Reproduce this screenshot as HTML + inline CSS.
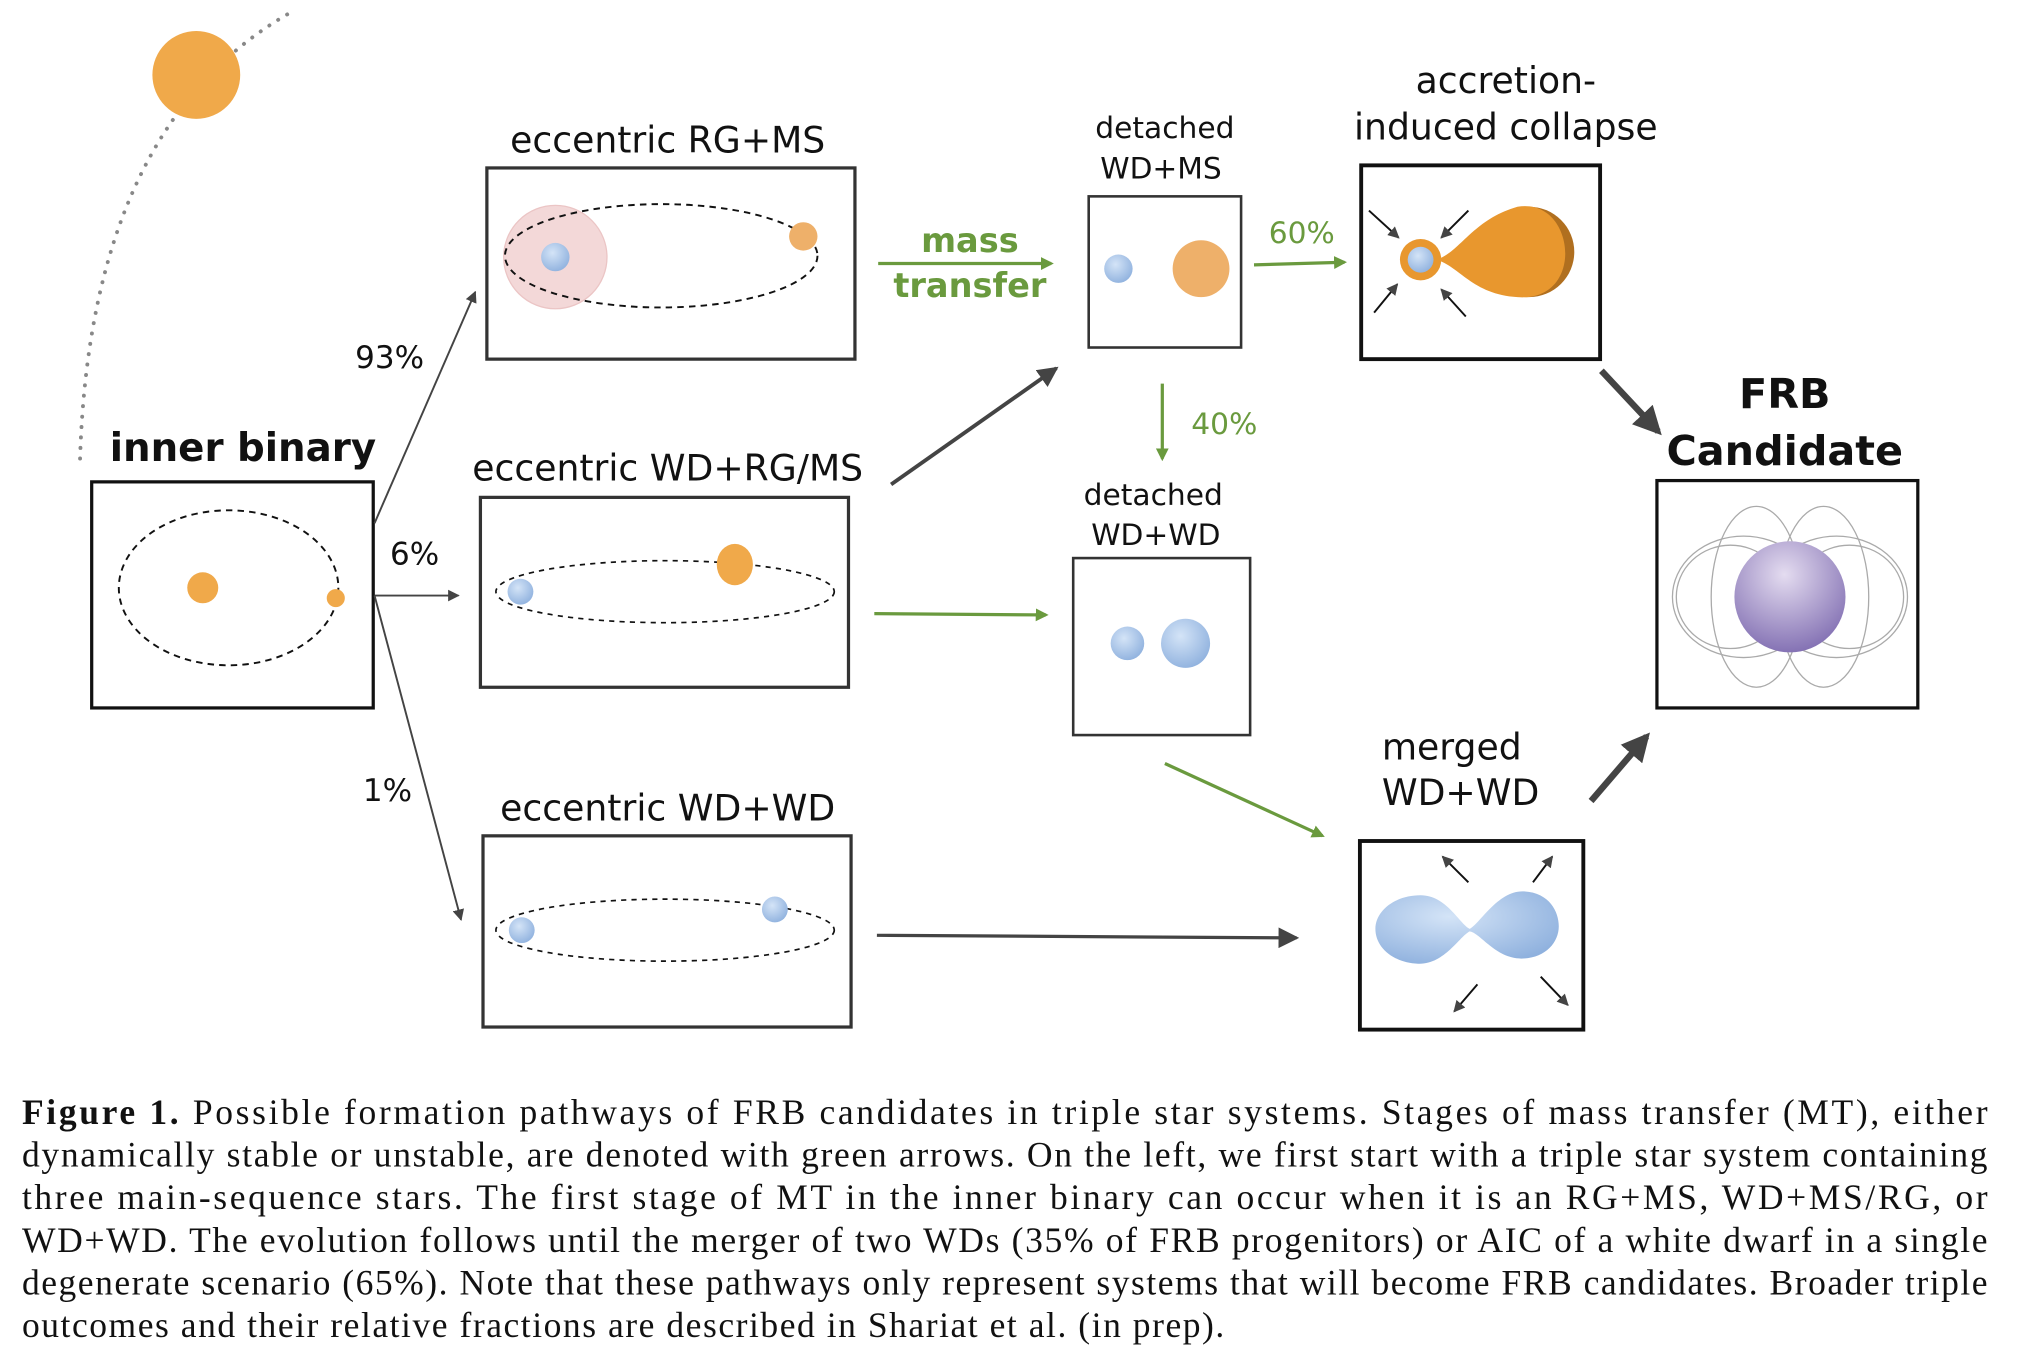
<!DOCTYPE html>
<html><head><meta charset="utf-8"><style>
html,body{margin:0;padding:0;background:#fff}
svg{display:block}
.s{font-family:"DejaVu Sans","Liberation Sans",sans-serif;fill:#111}
.c{font-family:"Liberation Serif",serif;font-size:27.5px;fill:#111}
</style></head><body>
<svg width="2025" height="1350" viewBox="0 0 1568 1045" preserveAspectRatio="none" xmlns="http://www.w3.org/2000/svg">
<defs>
<marker id="ag" markerWidth="10" markerHeight="10" refX="8" refY="5" orient="auto" markerUnits="userSpaceOnUse"><path d="M0,0 L10,5 L0,10 z" fill="#6a9a3e"/></marker>
<marker id="ak" markerWidth="9" markerHeight="9" refX="8" refY="4.5" orient="auto" markerUnits="userSpaceOnUse"><path d="M0,0 L9,4.5 L0,9 z" fill="#444"/></marker>
<marker id="ab" markerWidth="22" markerHeight="22" refX="18" refY="11" orient="auto" markerUnits="userSpaceOnUse"><path d="M0,0 L22,11 L0,22 z" fill="#444"/></marker>
<marker id="ad" markerWidth="16" markerHeight="16" refX="14" refY="8" orient="auto" markerUnits="userSpaceOnUse"><path d="M0,0 L16,8 L0,16 z" fill="#444"/></marker>
<radialGradient id="bl" cx="40%" cy="35%" r="70%"><stop offset="0" stop-color="#d4e4f7"/><stop offset="1" stop-color="#8fb1de"/></radialGradient>
<radialGradient id="pu" cx="45%" cy="30%" r="75%"><stop offset="0" stop-color="#e4dcf0"/><stop offset="1" stop-color="#7e6bb0"/></radialGradient>
</defs>
<path d="M62,355 Q70,95 228,8" fill="none" stroke="#888" stroke-width="3" stroke-dasharray="0.1,8" stroke-linecap="round"/>
<circle cx="152" cy="58" r="34" fill="#f0a94a"/>
<text class="s" x="85" y="357" font-size="30" font-weight="bold">inner binary</text>
<rect x="71" y="373" width="218" height="175" fill="none" stroke="#111" stroke-width="2.5"/>
<ellipse cx="177" cy="455" rx="85" ry="60" fill="none" stroke="#111" stroke-width="1.5" stroke-dasharray="5,4"/>
<circle cx="157" cy="455" r="12" fill="#f0a94a"/>
<circle cx="260" cy="463" r="7" fill="#f0a94a"/>
<line x1="290" y1="405" x2="368" y2="226" stroke="#444" stroke-width="1.5" marker-end="url(#ak)"/>
<line x1="290" y1="461" x2="355" y2="461" stroke="#444" stroke-width="1.5" marker-end="url(#ak)"/>
<line x1="290" y1="461" x2="357" y2="712" stroke="#444" stroke-width="1.5" marker-end="url(#ak)"/>
<text class="s" x="275" y="285" font-size="24">93%</text>
<text class="s" x="302" y="437" font-size="24">6%</text>
<text class="s" x="281" y="620" font-size="24">1%</text>
<text class="s" x="517" y="118" font-size="28" text-anchor="middle">eccentric RG+MS</text>
<rect x="377" y="130" width="285" height="148" fill="none" stroke="#333" stroke-width="2.5"/>
<circle cx="430" cy="199" r="40" fill="#f3d8d8" stroke="#ebc5c5"/>
<ellipse cx="512" cy="198" rx="121" ry="40" fill="none" stroke="#111" stroke-width="1.5" stroke-dasharray="5,4"/>
<circle cx="430" cy="199" r="11" fill="url(#bl)"/>
<circle cx="622" cy="183" r="11" fill="#eeb06a"/>
<text class="s" x="517" y="372" font-size="28" text-anchor="middle">eccentric WD+RG/MS</text>
<rect x="372" y="385" width="285" height="147" fill="none" stroke="#333" stroke-width="2.5"/>
<ellipse cx="515" cy="458" rx="131" ry="24" fill="none" stroke="#111" stroke-width="1.3" stroke-dasharray="4,4"/>
<circle cx="403" cy="458" r="10" fill="url(#bl)"/>
<ellipse cx="569" cy="437" rx="14" ry="16" fill="#f0a94a"/>
<text class="s" x="517" y="635" font-size="28" text-anchor="middle">eccentric WD+WD</text>
<rect x="374" y="647" width="285" height="148" fill="none" stroke="#333" stroke-width="2.5"/>
<ellipse cx="515" cy="720" rx="131" ry="24" fill="none" stroke="#111" stroke-width="1.3" stroke-dasharray="4,4"/>
<circle cx="404" cy="720" r="10" fill="url(#bl)"/>
<circle cx="600" cy="704" r="10" fill="url(#bl)"/>
<line x1="680" y1="204" x2="814" y2="204" stroke="#6a9a3e" stroke-width="2.5" marker-end="url(#ag)"/>
<text class="s" x="751" y="195" font-size="26" font-weight="bold" text-anchor="middle" style="fill:#6a9a3e">mass</text>
<text class="s" x="751" y="230" font-size="26" font-weight="bold" text-anchor="middle" style="fill:#6a9a3e">transfer</text>
<line x1="690" y1="375" x2="818" y2="285" stroke="#444" stroke-width="3" marker-end="url(#ad)"/>
<line x1="677" y1="475" x2="810" y2="476" stroke="#6a9a3e" stroke-width="2.5" marker-end="url(#ag)"/>
<line x1="679" y1="724" x2="1004" y2="726" stroke="#444" stroke-width="2.5" marker-end="url(#ad)"/>
<text class="s" x="902" y="107" font-size="23" text-anchor="middle">detached</text>
<text class="s" x="899" y="138" font-size="23" text-anchor="middle">WD+MS</text>
<rect x="843" y="152" width="118" height="117" fill="none" stroke="#333" stroke-width="2"/>
<circle cx="866" cy="208" r="11" fill="url(#bl)"/>
<circle cx="930" cy="208" r="22" fill="#eeb06a"/>
<line x1="971" y1="205" x2="1041" y2="203" stroke="#6a9a3e" stroke-width="2.5" marker-end="url(#ag)"/>
<text class="s" x="1008" y="188" font-size="23" text-anchor="middle" style="fill:#6a9a3e">60%</text>
<line x1="900" y1="297" x2="900" y2="355" stroke="#6a9a3e" stroke-width="2.5" marker-end="url(#ag)"/>
<text class="s" x="948" y="336" font-size="23" text-anchor="middle" style="fill:#6a9a3e">40%</text>
<text class="s" x="893" y="391" font-size="23" text-anchor="middle">detached</text>
<text class="s" x="895" y="422" font-size="23" text-anchor="middle">WD+WD</text>
<rect x="831" y="432" width="137" height="137" fill="none" stroke="#333" stroke-width="2"/>
<circle cx="873" cy="498" r="13" fill="url(#bl)"/>
<circle cx="918" cy="498" r="19" fill="url(#bl)"/>
<line x1="902" y1="591" x2="1024" y2="647" stroke="#6a9a3e" stroke-width="2.5" marker-end="url(#ag)"/>
<text class="s" x="1166" y="72" font-size="28" text-anchor="middle">accretion-</text>
<text class="s" x="1166" y="108" font-size="28" text-anchor="middle">induced collapse</text>
<rect x="1054" y="128" width="185" height="150" fill="none" stroke="#111" stroke-width="3"/>
<circle cx="1184" cy="195" r="35" fill="#b06f1f"/>
<path d="M1112,201 C1130,196 1140,170 1175,160 C1200,156 1212,178 1212,196 C1212,215 1200,232 1175,230 C1140,228 1130,206 1112,201 Z" fill="#e8972e"/>
<circle cx="1100" cy="201" r="16" fill="#e8972e"/>
<circle cx="1100" cy="201" r="10" fill="url(#bl)"/>
<g stroke="#111" stroke-width="1.5" marker-end="url(#ak)">
<line x1="1060" y1="163" x2="1083" y2="184"/><line x1="1137" y1="163" x2="1116" y2="184"/>
<line x1="1064" y1="242" x2="1082" y2="220"/><line x1="1135" y1="245" x2="1116" y2="224"/>
</g>
<line x1="1240" y1="287" x2="1284" y2="334" stroke="#444" stroke-width="5" marker-end="url(#ab)"/>
<line x1="1232" y1="620" x2="1275" y2="570" stroke="#444" stroke-width="5" marker-end="url(#ab)"/>
<text class="s" x="1382" y="316" font-size="32" font-weight="bold" text-anchor="middle">FRB</text>
<text class="s" x="1382" y="360" font-size="32" font-weight="bold" text-anchor="middle">Candidate</text>
<rect x="1283" y="372" width="202" height="176" fill="none" stroke="#111" stroke-width="2.5"/>
<g fill="none" stroke="#aaa" stroke-width="1">
<ellipse cx="1350" cy="462" rx="55" ry="47"/><ellipse cx="1422" cy="462" rx="55" ry="47"/>
<ellipse cx="1360" cy="462" rx="35" ry="70"/><ellipse cx="1412" cy="462" rx="35" ry="70"/>
<ellipse cx="1340" cy="462" rx="42" ry="40"/><ellipse cx="1432" cy="462" rx="42" ry="40"/>
</g>
<circle cx="1386" cy="462" r="43" fill="url(#pu)"/>
<text class="s" x="1070" y="588" font-size="28">merged</text>
<text class="s" x="1070" y="623" font-size="28">WD+WD</text>
<rect x="1053" y="651" width="173" height="146" fill="none" stroke="#111" stroke-width="3"/>
<path d="M1100,693 C1120,693 1130,715 1138,719 C1146,715 1160,689 1180,690 C1200,691 1207,706 1207,717 C1207,730 1196,742 1178,742 C1158,742 1146,722 1138,721 C1130,725 1118,747 1098,746 C1078,745 1065,733 1065,719 C1065,705 1080,693 1100,693 Z" fill="url(#bl)"/>
<g stroke="#111" stroke-width="1.5" marker-end="url(#ak)">
<line x1="1137" y1="683" x2="1117" y2="663"/><line x1="1187" y1="683" x2="1202" y2="663"/>
<line x1="1144" y1="762" x2="1126" y2="783"/><line x1="1193" y1="756" x2="1214" y2="778"/>
</g>
<text class="c" x="17" y="870" textLength="1522" lengthAdjust="spacing"><tspan font-weight="bold">Figure 1.</tspan>    Possible formation pathways of FRB candidates in triple star systems.  Stages of mass transfer (MT), either</text>
<text class="c" x="17" y="903" textLength="1522" lengthAdjust="spacing">dynamically stable or unstable, are denoted with green arrows. On the left, we first start with a triple star system containing</text>
<text class="c" x="17" y="936" textLength="1522" lengthAdjust="spacing">three main-sequence stars.  The first stage of MT in the inner binary can occur when it is an RG+MS, WD+MS/RG, or</text>
<text class="c" x="17" y="969" textLength="1522" lengthAdjust="spacing">WD+WD. The evolution follows until the merger of two WDs (35% of FRB progenitors) or AIC of a white dwarf in a single</text>
<text class="c" x="17" y="1002" textLength="1522" lengthAdjust="spacing">degenerate scenario (65%). Note that these pathways only represent systems that will become FRB candidates. Broader triple</text>
<text class="c" x="17" y="1035" textLength="931" lengthAdjust="spacing">outcomes and their relative fractions are described in Shariat et al. (in prep).</text>
</svg>
</body></html>
